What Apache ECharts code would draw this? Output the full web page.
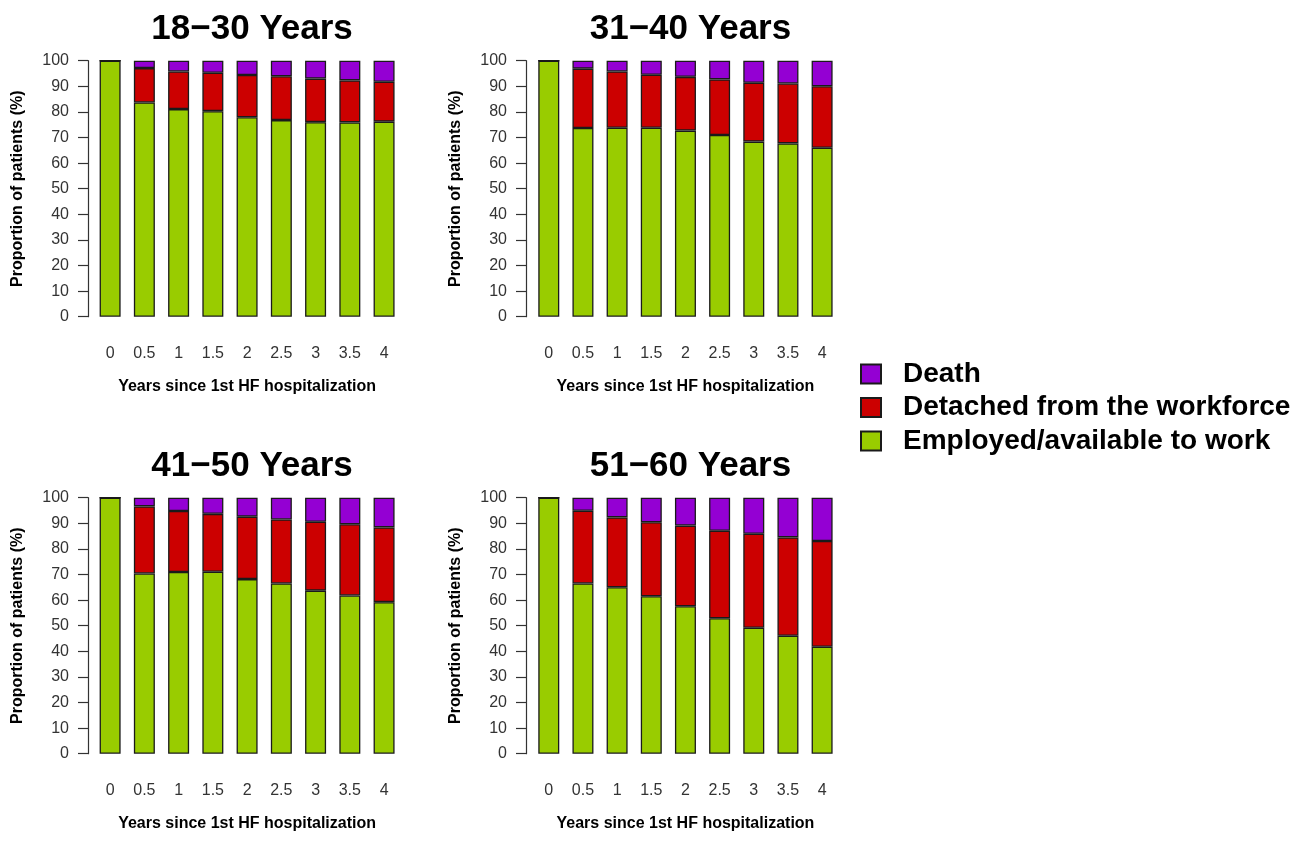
<!DOCTYPE html>
<html>
<head>
<meta charset="utf-8">
<script src="https://cdn.jsdelivr.net/npm/echarts@6/dist/echarts.min.js"></script>
<style>
html,body{margin:0;padding:0;background:#fff;}
#chart{width:1295px;height:843px;}
</style>
</head>
<body>
<div id="chart"></div>
<script>
const categories = ['0','0.5','1','1.5','2','2.5','3','3.5','4'];
const panelTitles = ['18\u221230 Years','31\u221240 Years','41\u221250 Years','51\u221260 Years'];
const seriesNames = ['Death','Detached from the workforce','Employed/available to work'];
const yTicks = [0,10,20,30,40,50,60,70,80,90,100];

const employed18 = [100, 83.7, 81.1, 80.3, 77.9, 76.8, 76.0, 75.9, 76.2];
const detached18 = [0, 13.4, 14.7, 15.0, 16.5, 17.1, 17.0, 16.4, 15.6];
const death18    = [0, 2.9, 4.2, 4.7, 5.6, 6.1, 7.0, 7.7, 8.2];

const employed31 = [100, 73.7, 73.8, 73.8, 72.7, 71.0, 68.4, 67.7, 66.0];
const detached31 = [0, 23.2, 22.0, 20.7, 21.0, 21.7, 23.0, 23.4, 24.0];
const death31    = [0, 3.1, 4.2, 5.5, 6.3, 7.3, 8.6, 8.9, 10.0];

const employed41 = [100, 70.4, 71.0, 71.1, 68.2, 66.5, 63.7, 61.8, 59.2];
const detached41 = [0, 26.2, 23.8, 22.6, 24.4, 25.0, 26.9, 27.8, 29.2];
const death41    = [0, 3.4, 5.2, 6.3, 7.4, 8.5, 9.4, 10.4, 11.6];

const employed51 = [100, 66.5, 65.0, 61.5, 57.6, 52.9, 49.2, 46.1, 41.8];
const detached51 = [0, 28.4, 27.3, 28.9, 31.5, 34.2, 36.7, 38.4, 41.3];
const death51    = [0, 5.1, 7.7, 9.6, 10.9, 12.9, 14.1, 15.5, 16.9];

const panels = [
  {employed: employed18, detached: detached18, death: death18},
  {employed: employed31, detached: detached31, death: death31},
  {employed: employed41, detached: detached41, death: death41},
  {employed: employed51, detached: detached51, death: death51}
];

const colors = {death:'#9400D3', detached:'#CC0000', employed:'#99CC00'};
const FONT = '"Liberation Sans", Arial, Helvetica, sans-serif';

const grids = [
  {left: 93,    top: 60.7,  width: 308.2, height: 256},
  {left: 531.7, top: 60.7,  width: 307.5, height: 256},
  {left: 93,    top: 497.7, width: 308.2, height: 256},
  {left: 531.7, top: 497.7, width: 307.5, height: 256}
];
const yOffsets = [5, 5.7, 5, 5.7];

const option = {
  backgroundColor: '#fff',
  animation: false,
  textStyle: {fontFamily: FONT},
  title: grids.map((g, i) => ({
    text: panelTitles[i],
    left: g.left + g.width / 2,
    top: g.top - 54,
    textAlign: 'center',
    textStyle: {fontFamily: FONT, fontSize: 35, fontWeight: 'bold', color: '#000'}
  })),
  legend: {
    orient: 'vertical',
    left: 855,
    top: 355,
    icon: 'rect',
    itemWidth: 20,
    itemHeight: 19,
    itemGap: 5.5,
    data: seriesNames,
    textStyle: {fontFamily: FONT, fontSize: 28, fontWeight: 'bold', color: '#000', padding: [0,0,0,17]}
  },
  grid: grids,
  xAxis: grids.map((g, i) => ({
    type: 'category',
    gridIndex: i,
    data: categories,
    axisLine: {show: false},
    axisTick: {show: false},
    axisLabel: {fontFamily: FONT, fontSize: 16, color: '#333', margin: 29, interval: 0},
    name: 'Years since 1st HF hospitalization',
    nameLocation: 'middle',
    nameGap: 62,
    nameTextStyle: {fontFamily: FONT, fontSize: 16, fontWeight: 'bold', color: '#000'}
  })),
  yAxis: grids.map((g, i) => ({
    type: 'value',
    gridIndex: i,
    min: yTicks[0],
    max: yTicks[yTicks.length - 1],
    interval: 10,
    offset: yOffsets[i],
    splitLine: {show: false},
    axisLine: {show: true, lineStyle: {color: '#333', width: 1.2}},
    axisTick: {show: true, length: 10, lineStyle: {color: '#333', width: 1.2}},
    axisLabel: {fontFamily: FONT, fontSize: 16, color: '#333', margin: 19},
    name: 'Proportion of patients (%)',
    nameLocation: 'middle',
    nameGap: 62,
    nameTextStyle: {fontFamily: FONT, fontSize: 16, fontWeight: 'bold', color: '#000'}
  })),
  series: []
};

panels.forEach((p, i) => {
  const common = {
    type: 'bar',
    xAxisIndex: i,
    yAxisIndex: i,
    stack: 'stack' + i,
    barWidth: 21,
    emphasis: {disabled: true}
  };
  option.series.push(Object.assign({}, common, {
    name: seriesNames[2], data: p.employed,
    itemStyle: {color: colors.employed, borderColor: '#1a1a1a', borderWidth: 1.3}
  }));
  option.series.push(Object.assign({}, common, {
    name: seriesNames[1], data: p.detached,
    itemStyle: {color: colors.detached, borderColor: '#1a1a1a', borderWidth: 1.3}
  }));
  option.series.push(Object.assign({}, common, {
    name: seriesNames[0], data: p.death,
    itemStyle: {color: colors.death, borderColor: '#1a1a1a', borderWidth: 1.3}
  }));
});

const chart = echarts.init(document.getElementById('chart'), null, {renderer: 'canvas'});
chart.setOption(option);
</script>
</body>
</html>
